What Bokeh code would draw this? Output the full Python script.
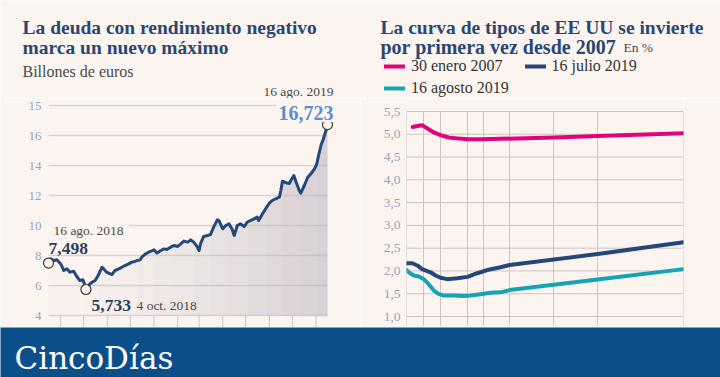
import numpy as np
import pandas as pd
from bokeh.plotting import figure
from bokeh.layouts import column, row
from bokeh.models import Label, FixedTicker, Legend, LegendItem, Range1d
from bokeh.embed import file_html
from bokeh.resources import INLINE

# ---------------- data: deuda con rendimiento negativo ----------------
debt_dates = [
    "2018-08-16", "2018-08-19", "2018-08-23", "2018-08-27", "2018-09-01", "2018-09-03",
    "2018-09-05", "2018-09-09", "2018-09-13", "2018-09-18", "2018-09-22", "2018-09-26",
    "2018-09-30", "2018-10-02", "2018-10-04", "2018-10-07", "2018-10-12", "2018-10-16",
    "2018-10-20", "2018-10-25", "2018-10-27", "2018-10-31", "2018-11-07", "2018-11-11",
    "2018-11-16", "2018-11-20", "2018-11-24", "2018-11-29", "2018-12-03", "2018-12-07",
    "2018-12-10", "2018-12-14", "2018-12-16", "2018-12-21", "2018-12-25", "2018-12-30",
    "2019-01-01", "2019-01-05", "2019-01-10", "2019-01-14", "2019-01-18", "2019-01-23",
    "2019-01-27", "2019-02-01", "2019-02-05", "2019-02-09", "2019-02-14", "2019-02-18",
    "2019-02-22", "2019-02-27", "2019-03-01", "2019-03-03", "2019-03-07", "2019-03-12",
    "2019-03-16", "2019-03-20", "2019-03-25", "2019-03-27", "2019-04-01", "2019-04-05",
    "2019-04-09", "2019-04-13", "2019-04-16", "2019-04-20", "2019-04-24", "2019-04-29",
    "2019-05-03", "2019-05-07", "2019-05-12", "2019-05-16", "2019-05-18", "2019-05-23",
    "2019-05-27", "2019-06-01", "2019-06-05", "2019-06-09", "2019-06-14", "2019-06-16",
    "2019-06-18", "2019-06-23", "2019-06-27", "2019-06-29", "2019-07-03", "2019-07-06",
    "2019-07-10", "2019-07-12", "2019-07-17", "2019-07-21", "2019-07-26", "2019-07-30",
    "2019-08-02", "2019-08-04", "2019-08-08", "2019-08-10", "2019-08-12", "2019-08-14",
    "2019-08-16",
]
debt_values = [
    7.498, 7.78, 7.67, 7.72, 7.44, 7.22,
    7.00, 7.11, 6.89, 6.95, 6.60, 6.33,
    6.38, 6.11, 5.733, 6.00, 6.22, 6.33,
    6.67, 7.22, 7.11, 6.89, 6.73, 7.00,
    7.11, 7.22, 7.33, 7.44, 7.56, 7.60,
    7.67, 7.71, 7.89, 8.11, 8.22, 8.33,
    8.38, 8.16, 8.33, 8.44, 8.40, 8.56,
    8.67, 8.60, 8.78, 8.96, 8.89, 9.04,
    8.89, 8.56, 8.33, 8.80, 9.27, 9.33,
    9.40, 9.89, 10.38, 10.33, 9.78, 10.00,
    10.11, 9.78, 9.33, 10.00, 10.11, 9.93,
    10.22, 10.33, 10.44, 10.56, 10.33, 10.78,
    11.11, 11.50, 11.67, 11.78, 11.89, 12.33,
    12.95, 12.85, 12.80, 13.00, 13.33, 12.89,
    12.33, 12.16, 12.70, 13.20, 13.50, 13.78,
    14.10, 14.60, 15.44, 15.67, 16.00, 16.33,
    16.723,
]
debt_ticks = [4, 6, 8, 10, 12, 14, 16, 18]
debt_tick_labels = ["4", "6", "8", "10", "12", "14", "16", "15"]

# ---------------- data: curva de tipos EE UU ----------------
maturity_years = [1, 2, 3, 5, 7, 10, 15, 20, 30]
maturity_axis = [0, 1, 2, 3.59, 4.53, 6.06, 8.65, 11.24, 16.29]  # broken-axis scale

rate_ticks = [1.0, 1.5, 2.0, 2.5, 3.0, 3.5, 4.0, 4.5, 5.0, 5.5]
rate_tick_labels = ["1,0", "1,5", "2,0", "2,5", "3,0", "3,5", "4,0", "4,5", "5,0", "5,5"]

jan07_years = [1.37, 1.63, 1.92, 2.22, 2.61, 3.0, 3.61, 4.24, 5.0, 6.63, 8.96, 15, 20, 30]
jan07_values = [5.16, 5.18, 5.20, 5.13, 5.04, 4.98, 4.93, 4.91, 4.89, 4.89, 4.90, 4.93, 4.96, 5.02]

jul19_years = [1, 1.34, 1.63, 1.92, 2.41, 2.71, 3.0, 3.5, 4.24, 5.0, 6.21, 7.43, 8.96, 10, 20, 30]
jul19_values = [2.17, 2.17, 2.12, 2.04, 1.97, 1.90, 1.85, 1.82, 1.84, 1.87, 1.95, 2.02, 2.08, 2.13, 2.37, 2.63]

aug19_years = [1, 1.14, 1.43, 1.72, 2.02, 2.31, 2.61, 2.90, 3.24, 3.99, 4.73, 5.38, 6.63, 7.81, 8.96, 10, 20, 30]
aug19_values = [2.02, 1.97, 1.90, 1.88, 1.82, 1.71, 1.57, 1.49, 1.46, 1.46, 1.45, 1.46, 1.49, 1.52, 1.53, 1.58, 1.81, 2.04]

series_labels = ["30 enero 2007", "16 julio 2019", "16 agosto 2019"]

# ---------------- styles ----------------
BG = "#fcf5ef"
SERIF = "Liberation Serif"
TITLE_C = "#294774"
TEXT_C = "#4a4a4a"
TICK_C = "#95a4bb"
GRID_L = "#dad3d3"
GRID_R = "#cdc3c3"
NAVY = "#23487c"
NAVY2 = "#24477a"
PINK = "#e2037c"
TEAL = "#16a4b4"
BANNER = "#0b4f8a"

W, H_HEAD, Y_BANNER, H_ALL = 720, 98, 327, 377


def lab(p, x, y, text, size, color=TEXT_C, bold=False, align="left", font=SERIF, bg=None, pad=0):
    kw = {}
    if bg is not None:
        kw = dict(background_fill_color=bg, padding=pad)
    p.add_layout(Label(x=x, y=y, text=text, text_font=font, text_font_size=size,
                       text_color=color, text_font_style="bold" if bold else "normal",
                       text_align=align, text_baseline="alphabetic", **kw))


def panel(width, height, fill=BG):
    h = figure(width=width, height=height, title=None, x_range=Range1d(0, width),
               y_range=Range1d(0, height), output_backend="svg", toolbar_location=None,
               min_border=0, background_fill_color=fill, border_fill_color=fill,
               outline_line_color=None)
    h.xaxis.visible = False
    h.yaxis.visible = False
    h.xgrid.visible = False
    h.ygrid.visible = False
    return h


def fmt(v):
    return f"{v:.3f}".replace(".", ",")


# ================= header (both titles + legend) =================
head = panel(W, H_HEAD)
hy = lambda py: H_HEAD - py
lab(head, 22, hy(27), "La deuda con rendimiento negativo", "19.5px", TITLE_C, bold=True)
lab(head, 22, hy(47), "marca un nuevo máximo", "19.5px", TITLE_C, bold=True)
lab(head, 22, hy(71), "Billones de euros", "16px", TEXT_C)
lab(head, 333, hy(91), "16 ago. 2019", "13.5px", TEXT_C, align="right")

lab(head, 380, hy(27), "La curva de tipos de EE UU se invierte", "19.5px", TITLE_C, bold=True)
lab(head, 380, hy(46.5), "por primera vez desde 2007", "20px", TITLE_C, bold=True)
lab(head, 623, hy(46.5), "En %", "13.5px", TEXT_C)

sw = [head.line(x=[np.nan], y=[np.nan], line_color=c, line_width=4, line_cap="round")
      for c in (PINK, NAVY2, TEAL)]
leg_kw = dict(orientation="horizontal", padding=0, margin=0, spacing=22, glyph_width=21,
              glyph_height=18, label_standoff=6, label_height=18,
              label_text_font=SERIF, label_text_font_size="16px", label_text_color="#333333",
              border_line_alpha=0, background_fill_alpha=0)
leg1 = Legend(items=[LegendItem(label=series_labels[0], renderers=[sw[0]]),
                     LegendItem(label=series_labels[1], renderers=[sw[1]])],
              location=(384, hy(75)), **leg_kw)
leg2 = Legend(items=[LegendItem(label=series_labels[2], renderers=[sw[2]])],
              location=(384, hy(97)), **leg_kw)
head.add_layout(leg1)
head.add_layout(leg2)

# ================= left chart =================
dt = pd.to_datetime(debt_dates)
vals = np.array(debt_values)
x0, x1 = dt[0], dt[-1]
ppd = 279.0 / (x1 - x0).days          # pixels per day
pad = pd.Timedelta(days=6.0 / ppd)
PX_L = 15.0                            # pixels per unit
y_lo = debt_ticks[0] - (Y_BANNER - 315) / PX_L
y_hi = debt_ticks[0] + (315 - H_HEAD) / PX_L

left = figure(width=360, height=Y_BANNER - H_HEAD, x_axis_type="datetime", title=None,
              x_range=Range1d(x0 - pad, x1 + pad), y_range=Range1d(y_lo, y_hi),
              output_backend="svg", toolbar_location=None,
              min_border_left=42, min_border_right=27, min_border_top=0, min_border_bottom=0,
              background_fill_color=BG, border_fill_color=BG, outline_line_color=None)
left.xaxis.visible = False
left.xgrid.visible = False
left.ygrid.visible = False


def lx(px):
    return x0 + pd.Timedelta(days=(px - 48) / ppd)


def ly(py):
    return debt_ticks[0] + (315 - py) / PX_L


left.segment(x0=[x0] * len(debt_ticks), x1=[x1] * len(debt_ticks), y0=debt_ticks, y1=debt_ticks,
             line_color=GRID_L, line_width=1.3)
month_starts = pd.date_range(x0 + pd.offsets.MonthBegin(1), x1, freq="MS")
left.segment(x0=month_starts, x1=month_starts, y0=debt_ticks[0], y1=y_lo,
             line_color="#cfc6c6", line_width=1)

n = 16
edges = np.linspace(0, len(vals) - 1, n + 1).astype(int)
for i in range(n):
    a, b = edges[i], edges[i + 1]
    left.varea(x=dt[a:b + 1], y1=debt_ticks[0], y2=vals[a:b + 1], fill_color="#b8b0bf",
               fill_alpha=0.03 + 0.52 * (i / (n - 1)) ** 1.4)

left.line(dt, vals, line_color=NAVY, line_width=3, line_join="round")
imin = int(np.argmin(vals))
idx = [0, imin, len(vals) - 1]
left.scatter(dt[idx], vals[idx], size=10, fill_color=BG, line_color="#3a3a3a", line_width=1.2)

left.yaxis.ticker = FixedTicker(ticks=debt_ticks)
left.yaxis.major_label_overrides = {t: s for t, s in zip(debt_ticks, debt_tick_labels)}
left.yaxis.axis_line_color = None
left.yaxis.major_tick_line_color = None
left.yaxis.minor_tick_line_color = None
left.yaxis.major_tick_out = 0
left.yaxis.major_label_standoff = 1
left.yaxis.major_label_text_font = SERIF
left.yaxis.major_label_text_font_size = "13px"
left.yaxis.major_label_text_color = TICK_C

lab(left, lx(335), ly(112.5), fmt(vals[-1]), "20px", "#5b8ed3", bold=True, align="right",
    bg=BG, pad=2)
lab(left, lx(48), ly(229.5), "16 ago. 2018", "13.5px", TEXT_C, bg=BG, pad=5)
lab(left, lx(48), ly(248), fmt(vals[0]), "17.5px", "#2b3f60", bold=True)
lab(left, lx(91), ly(305), fmt(vals[imin]), "17.5px", "#2b3f60", bold=True)
lab(left, lx(136), ly(305), "4 oct. 2018", "13.5px", TEXT_C)

# ================= right chart =================
def mpos(years):
    return np.interp(years, maturity_years, maturity_axis)


PX_R = 205 / (rate_ticks[-1] - rate_ticks[0])
r_lo = rate_ticks[0] - (Y_BANNER - 316) / PX_R
r_hi = rate_ticks[0] + (316 - H_HEAD) / PX_R

right = figure(width=360, height=Y_BANNER - H_HEAD, title=None,
               x_range=Range1d(0, maturity_axis[-1]), y_range=Range1d(r_lo, r_hi),
               output_backend="svg", toolbar_location=None,
               min_border_left=46, min_border_right=37, min_border_top=0, min_border_bottom=0,
               background_fill_color=BG, border_fill_color=BG, outline_line_color=None)
right.xaxis.visible = False
right.xgrid.visible = False
right.ygrid.visible = False
right.segment(x0=[0] * len(rate_ticks), x1=[maturity_axis[-1]] * len(rate_ticks),
              y0=rate_ticks, y1=rate_ticks, line_color=GRID_R, line_width=1)
right.segment(x0=maturity_axis, x1=maturity_axis, y0=rate_ticks[0] - 9 / PX_R,
              y1=rate_ticks[-1], line_color=GRID_R, line_width=1)

right.line(mpos(jan07_years), jan07_values, line_color=PINK, line_width=4,
           line_cap="round", line_join="round")
right.line(mpos(jul19_years), jul19_values, line_color=NAVY2, line_width=4,
           line_cap="round", line_join="round")
right.line(mpos(aug19_years), aug19_values, line_color=TEAL, line_width=4,
           line_cap="round", line_join="round")

right.yaxis.ticker = FixedTicker(ticks=rate_ticks)
right.yaxis.major_label_overrides = {t: s for t, s in zip(rate_ticks, rate_tick_labels)}
right.yaxis.axis_line_color = None
right.yaxis.major_tick_line_color = None
right.yaxis.minor_tick_line_color = None
right.yaxis.major_tick_out = 0
right.yaxis.major_label_standoff = 6
right.yaxis.major_label_text_font = SERIF
right.yaxis.major_label_text_font_size = "13.5px"
right.yaxis.major_label_text_color = TICK_C

# ================= banner =================
banner = panel(W, H_ALL - Y_BANNER, fill=BANNER)
lab(banner, 14, (H_ALL - Y_BANNER) - 30, "CincoDías", "31px", "white", font="DejaVu Serif")

layout = column(head, row(left, right), banner)
open("out.html", "w").write(file_html(layout, INLINE))
